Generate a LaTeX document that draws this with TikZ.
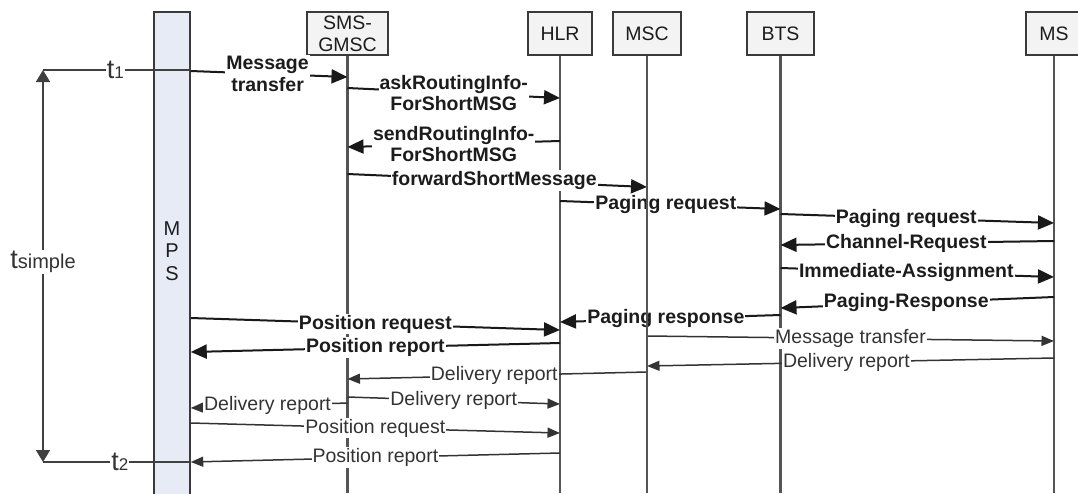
\documentclass[tikz,border=0pt]{standalone}
\usepackage{fontspec}
\setmainfont{Liberation Sans}
\usetikzlibrary{arrows.meta,shadows}

\definecolor{boxfill}{HTML}{F3F3F3}
\definecolor{boxline}{HTML}{3A3A3A}
\definecolor{mpsfill}{HTML}{E6EBF6}
\definecolor{lifec}{HTML}{555555}
\definecolor{textc}{HTML}{1C1C1C}

\newcommand\msgfont{\fontsize{19.5}{21.5}\selectfont}
\newcommand\hdrfont{\fontsize{19.5}{22}\selectfont}
\newcommand\bigt{\fontsize{27}{27}\selectfont t}

\tikzset{
  hdr/.style={draw=boxline, fill=boxfill, line width=1.5pt, minimum height=43pt,
    inner sep=0pt, align=center, font=\hdrfont, text=textc,
    drop shadow={shadow xshift=1.2pt, shadow yshift=-1.2pt, fill=black!35, opacity=.6}},
  lifeline/.style={draw=lifec, line width=2.2pt},
  msgb/.style={draw=black!90, line width=2pt, -{Triangle[length=16pt,width=14pt]}},
  msgr/.style={draw=black!80, line width=1.5pt, -{Triangle[length=12.5pt,width=10pt]}},
  lblb/.style={fill=white, inner sep=1pt, font=\bfseries\msgfont, text=textc},
  lblr/.style={fill=white, inner sep=1pt, font=\msgfont, text=black!80},
  tline/.style={draw=black!75, line width=1.8pt},
  tlbl/.style={fill=white, inner sep=1pt, text=black!80},
}

\begin{document}
\begin{tikzpicture}[x=1pt, y=-1pt]
\useasboundingbox (0,0) rectangle (1078,493);
\fill[white] (0,0) rectangle (1078,493);

% MPS column
\node[draw=boxline, fill=mpsfill, line width=1.5pt, minimum width=36pt,
      minimum height=490pt, inner sep=0pt] (mps) at (172,257) {};
\node[font=\fontsize{20}{22.5}\selectfont, align=center, text=textc, inner sep=0pt] (mpstext) at (172,251) {M\\P\\S};

% entity headers
\node[hdr, minimum width=81pt] (gmsc) at (347.5,33.5) {SMS-\\GMSC};
\node[hdr, minimum width=64pt] (hlr) at (560,33.5) {HLR};
\node[hdr, minimum width=68pt] (msc) at (647,33.5) {MSC};
\node[hdr, minimum width=67pt] (bts) at (780.5,33.5) {BTS};
\node[hdr, minimum width=56pt] (ms) at (1054,33.5) {MS};

% lifelines (MSC is drawn last, on top of the labels)
\draw[lifeline] (gmsc.south) -- (gmsc.south |- 0,493);
\draw[lifeline] (hlr.south) -- (hlr.south |- 0,493);
\draw[lifeline] (bts.south) -- (bts.south |- 0,493);
\draw[lifeline] (ms.south) -- (ms.south |- 0,493);

% overall time span
\coordinate (tt1) at (43,70);
\coordinate (tt2) at (43,462);
\draw[tline, {Triangle[length=12pt,width=14pt]}-{Triangle[length=12pt,width=14pt]}]
  (tt1) -- node[tlbl, pos=.49] (ts) {\bigt{\fontsize{20}{20}\selectfont simple}} (tt2);
\draw[tline] (tt1) -- node[tlbl, pos=.49] (t1) {\bigt{\fontsize{17}{17}\selectfont 1}} (mps.east |- tt1);
\draw[tline] (tt2) -- node[tlbl, pos=.52] (t2) {\bigt{\fontsize{17}{17}\selectfont 2}} (mps.east |- tt2);

% signalling messages
\draw[msgb] (mps.east |- 0,71) -- node[lblb, pos=.49, align=center] (m1) {Message\\transfer} (gmsc.south |- 0,77);
\draw[msgb] (gmsc.south |- 0,88) -- node[lblb, align=center] (m2) {askRoutingInfo-\\ForShortMSG} (hlr.south |- 0,98);
\draw[msgb] (hlr.south |- 0,141) -- node[lblb, align=center] (m3) {sendRoutingInfo-\\ForShortMSG} (gmsc.south |- 0,147);
\draw[msgb] (gmsc.south |- 0,174) -- node[lblb, pos=.49] (m4) {forwardShortMessage} (msc.south |- 0,187);
\draw[msgb] (hlr.south |- 0,201) -- node[lblb, pos=.48] (m5) {Paging request} (bts.south |- 0,209);
\draw[msgb] (bts.south |- 0,214) -- node[lblb, pos=.46] (m6) {Paging request} (ms.south |- 0,223);
\draw[msgb] (ms.south |- 0,241) -- node[lblb, pos=.54] (m7) {Channel-Request} (bts.south |- 0,245);
\draw[msgb] (bts.south |- 0,268) -- node[lblb, pos=.46] (m8) {Immediate-Assignment} (ms.south |- 0,277);
\draw[msgb] (ms.south |- 0,297) -- node[lblb, pos=.54] (m9) {Paging-Response} (bts.south |- 0,308);
\draw[msgb] (bts.south |- 0,315) -- node[lblb, pos=.52] (m10) {Paging response} (hlr.south |- 0,322);
\draw[msgb] (mps.east |- 0,318) -- node[lblb] (m11) {Position request} (hlr.south |- 0,330);
\draw[msgb] (hlr.south |- 0,343) -- node[lblb] (m12) {Position report} (mps.east |- 0,352);

\draw[msgr] (msc.south |- 0,336) -- node[lblr] (m13) {Message transfer} (ms.south |- 0,341);
\draw[msgr] (ms.south |- 0,358) -- node[lblr, pos=.51] (m14) {Delivery report} (msc.south |- 0,366);
\draw[msgr] (msc.south |- 0,372) -- node[lblr, pos=.51] (m15) {Delivery report} (gmsc.south |- 0,379);
\draw[msgr] (gmsc.south |- 0,397) -- node[lblr] (m16) {Delivery report} (hlr.south |- 0,404);
\draw[msgr] (gmsc.south |- 0,403) -- node[lblr, pos=.51] (m17) {Delivery report} (mps.east |- 0,408);
\draw[msgr] (mps.east |- 0,423) -- node[lblr] (m18) {Position request} (hlr.south |- 0,433);
\draw[msgr] (hlr.south |- 0,453) -- node[lblr] (m19) {Position report} (mps.east |- tt2);

\draw[lifeline] (msc.south) -- (msc.south |- 0,493);
\end{tikzpicture}
\end{document}
